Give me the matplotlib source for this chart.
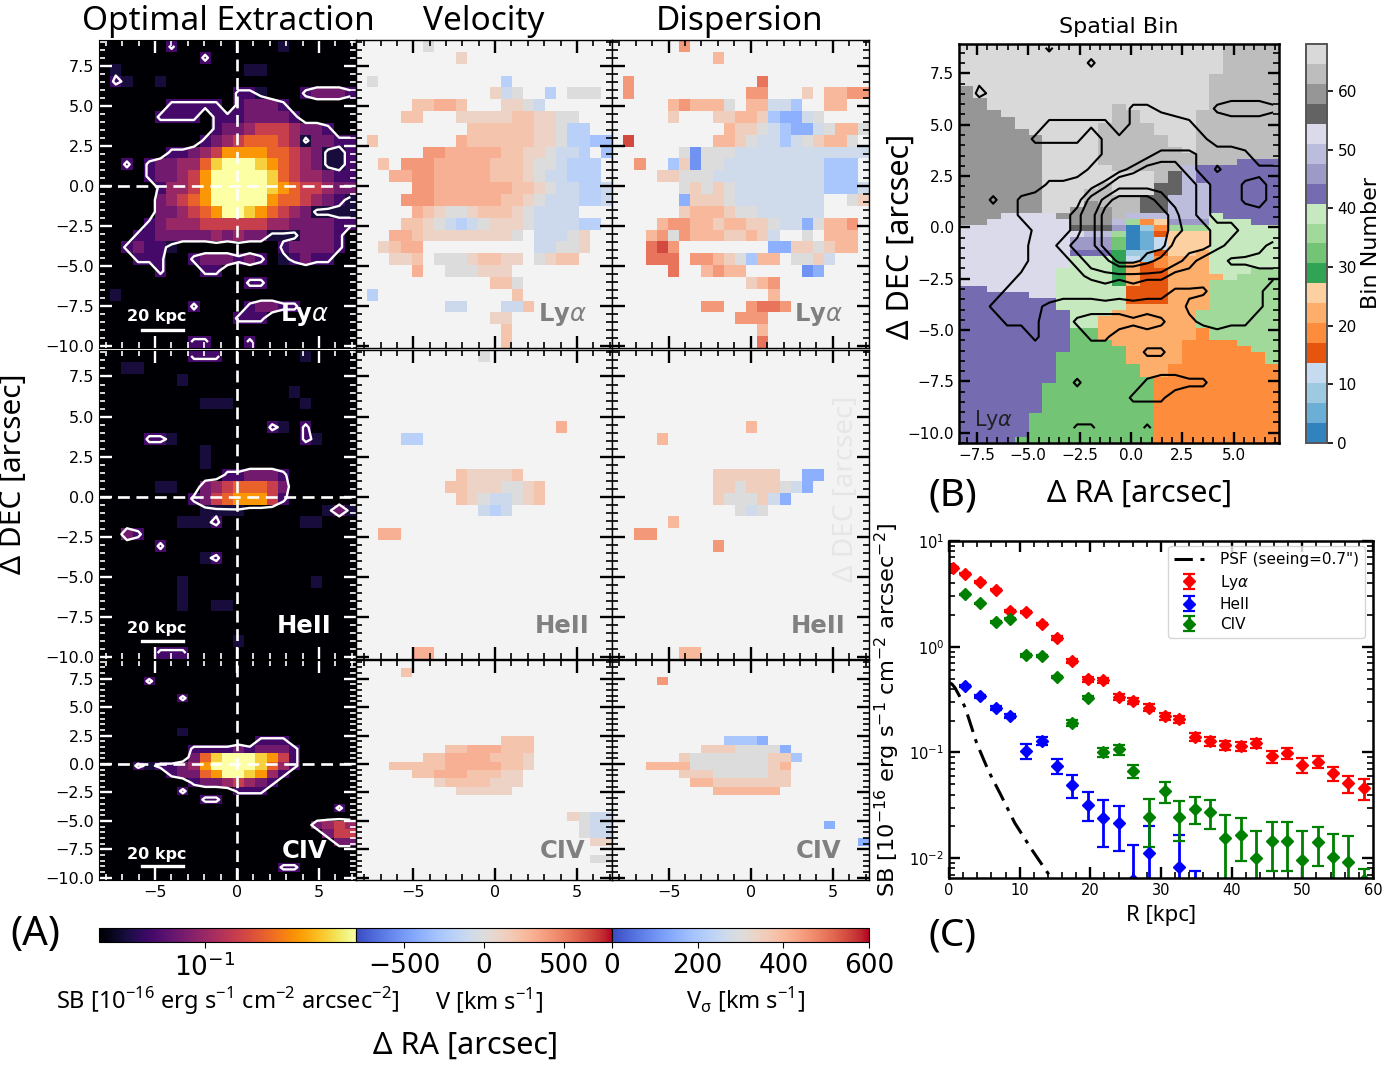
import numpy as np
import matplotlib
matplotlib.use('Agg')
import matplotlib.pyplot as plt
from matplotlib.cm import ScalarMappable
from matplotlib.colors import LogNorm, Normalize
from matplotlib.ticker import MultipleLocator, NullLocator, NullFormatter

W, H = 1392, 1068
NCOL = 23

# surface brightness maps, one character per cell, codes index SB_LEVELS
SB_LEVELS = [0.02, 0.03, 0.045, 0.07, 0.1, 0.16, 0.25, 0.4, 0.65, 1.0]

SB_LYA = [
    "00000020000000001", "00000000020000", "01000000000001100", "02100100000000",
    "00000000000022100023332", "00000022222023332000000", "00000222202223333200000",
    "00000000002334555433200", "00000000023456665413322", "00000022345777766543112",
    "00202334468999876543112", "00002334579999986544322", "00000244579999987655433",
    "00000345679999976654321", "00000334567998765431111", "00002344455555544333322",
    "00022333334343311133320", "00232210000000002333320", "00022200233323201232200",
    "00000200022", "000000000000022", "01", "000000002000023322", "000000000000222", "0",
    "00000000220002",
]
SB_HEII = [
    "00000000222000000010", "001100", "0000000100", "000000000000000001",
    "00000000011100000010", "0", "000000000000000210200", "00002210000000000021",
    "000000000100", "000000000100", "00000000000223332", "00000110034566653",
    "00000000235677752", "00000000011110000000131", "00000001112000000011", "0032",
    "000002", "00000000012", "0", "00000001000000000001", "00000001", "000000010011",
    "0", "0", "0000000000001", "00000222",
]
SB_CIV = [
    "0", "0", "00002", "0", "00000002", "0", "0", "0", "0000000100",
    "00000000000000222", "000000002222323332", "000000003689998752",
    "000212234799998642", "00000023367998742", "0000000023345432",
    "000000020000222", "00000000022", "000000000000000000000" + "2", "0",
    "00000000000000000003454", "00000000000000000000355", "00000000000000000000033",
    "0", "0", "000000000000000022", "0",
]

# velocity maps: hex code * 100 - 500 km/s, '.' is no data
VEL_LYA = [
    "......5", ".........6", "", ".5...........3", "............645..3.555.",
    ".....77887...6654", "....77...66666776655", "..........77777766533",
    ".7.......87777776653322", "......998888877665443.2",
    "..7.999888887776554333.", "...8899888887776544333.",
    ".....998888888776544334", "....9998888887765444334",
    ".....876556777654444...", "....776543456665444433.", "...887666666665.44456",
    "..6788..........44556", "...667.55567766.5677", ".....8..555666", "............775",
    ".3............7", "........44...447", "............66", ".............7", ".............7",
]
VEL_HEII = [
    "...........5", "", "", "", "", "", "..................8", "....33", "", "",
    ".........766667", "........776665567", ".........76544567", "...........434", "",
    "..88", "", "", "", "", "", "", "", "", "", ".....88",
]
VEL_CIV = [
    "", "....7", "", "", "", "", "", "", "", ".............777", "........77888777",
    "......7788887776", "...7777788888776", ".....7788877766", ".......67777666",
    ".........66666", "", "", "...................6544", "....................544",
    "....................544", ".....................66", "", ".....................55", "", "",
]

# dispersion maps: codes index DISP_LEVELS, '.' is no data
DISP_LEVELS = [0, 50, 100, 150, 200, 270, 300, 350, 400, 450, 500, 550]

DISP_LYA = [
    "......9", ".........8", "", ".9...........a", ".9..........99...7.8899",
    ".....898886.88554..88", ".....7...7788743356", "..........8776543356886",
    ".b.......88765545678" + "86", "......62666555555555555.",
    "..9..47266555555555444.", "....776665555555555444.", "......67676555555554445",
    "......377765555555" + "5..67", "......788876655555" + "5....",
    "....89988788776553" + "6889", "...896988877875..6.888",
    "...ab9........33776788", "...aaa.99876488.6675", ".....a..8988.....23", "............789",
    "..............8", "........99..9aa9", "...........999", ".............8", ".............a",
]
DISP_HEII = [
    "", "", "", "", "", "", "............8", "....8", "", "",
    ".........777777..33", ".........776777653", ".........766675 3".replace(" ", ""), "...........656",
    ".....8", "..99", ".........9", "", "", "", "", "", "", "", "", "......88",
]
DISP_CIV = [
    "", "", "....9", "", "", "", "", "", "", "..........4443", "........77766663",
    "......76666666774", "...8888666666678", "......7776666677", ".......887777777",
    ".........888888", "", "", "", "...................3", "", "......................3", "", "", "", "",
]

# spatial bin map, run-length coded rows: repeat|code count ...; code a..t = tab20c slot
BIN_ROWS = [
    "5|t19 s4", "2|t18 s5", "2|r1 t17 s5", "1|r2 t16 s5", "1|r2 t9 s1 t6 s5", "1|r3 t8 s2 t4 s6",
    "1|r4 t7 s2 t4 s6", "1|r4 t6 s4 t3 s6", "1|r5 t5 s4 t3 s6", "2|r6 t4 s5 t2 s6", "1|r6 t4 s6 t1 s6",
    "1|r6 t4 s13", "1|r6 t4 s10 m3", "1|r6 t5 s5 o1 m6", "2|r6 t8 s1 q1 o1 m6", "1|r6 t4 s1 t3 q2 o2 m5",
    "1|r6 t3 s2 t3 q2 o2 m5", "1|r6 t3 s4 q2 o3 m5", "1|r6 t3 r1 s3 q2 o3 m5", "1|r6 t2 r3 s2 q2 o3 m5",
    "1|r3 p4 r4 s1 o6 l1 m4", "1|r2 p6 r3 o1 k1 f1 h1 n3 l3 m2", "1|p8 q3 n1 a1 c1 f1 k3 l5",
    "1|p9 o2 k1 a1 b1 e1 h3 l5", "2|p8 n3 j1 a1 b1 d1 h3 l5", "1|p8 m3 i1 c2 e1 h2 g1 l5",
    "1|p8 l3 i1 d1 c1 f1 g3 l5", "1|p8 l3 i1 g1 e1 f1 g3 l5", "1|p7 l4 i1 g1 e2 g3 l3 k2",
    "1|p7 l4 i1 g1 e2 g4 l1 k3", "1|p7 l4 i1 g1 e2 g3 k5", "1|m2 p5 l5 e3 g3 k5", "1|m5 p2 l5 e3 g3 k5",
    "1|m7 l5 e3 g3 k5", "1|m7 l5 g6 k5", "1|m8 l3 g6 k6", "2|m8 l2 g7 k6", "2|m8 j2 g7 f1 k5",
    "1|m8 j3 g5 f4 k3", "1|m8 j4 g4 f5 k2", "2|m7 j5 g4 f6 k1", "2|m7 j6 g2 f8", "1|m7 j7 f9",
    "5|m6 j8 f9", "4|m5 j9 f9", "1|m4 j10 f9",
]

# radial profiles
R_KPC = [0.6, 2.2, 4.4, 6.6, 8.7, 10.9, 13.1, 15.3, 17.4, 19.6, 21.8, 24.0, 26.1, 28.3,
         30.5, 32.6, 34.8, 37.0, 39.1, 41.3, 43.5, 45.7, 47.8, 50.0, 52.2, 54.3, 56.5, 58.7]
LYA_SB = [5.59, 4.91, 4.09, 3.46, 2.18, 2.14, 1.64, 1.21, 0.737, 0.49, 0.48, 0.336, 0.308, 0.265,
          0.219, 0.207, 0.14, 0.128, 0.1165, 0.115, 0.122, 0.0923, 0.099, 0.0759, 0.0816, 0.0633, 0.0509, 0.046]
LYA_ERR = [0.06, 0.05, 0.05, 0.05, 0.04, 0.04, 0.04, 0.04, 0.03, 0.03, 0.03, 0.02, 0.02, 0.02,
           0.015, 0.015, 0.012, 0.012, 0.012, 0.012, 0.012, 0.012, 0.012, 0.012, 0.011, 0.01, 0.0095, 0.0105]
HEII_SB = [np.nan, 0.4245, 0.341, 0.263, 0.2207, 0.103, 0.1289, 0.0742, 0.0491, 0.0322, 0.0241, 0.0214,
           0.0062, 0.0111, np.nan, 0.0082, 0.0055, np.nan, np.nan, np.nan, np.nan, np.nan, np.nan, np.nan,
           np.nan, np.nan, np.nan, np.nan]
HEII_ERR = [0, 0.012, 0.012, 0.01, 0.008, 0.016, 0.012, 0.0117, 0.012, 0.0099, 0.0113, 0.0096,
            0.0072, 0.009, 0, 0.0084, 0.002, 0, 0, 0, 0, 0, 0, 0, 0, 0, 0, 0]
CIV_SB = [np.nan, 3.13, 2.57, 1.71, 1.84, 0.828, 0.816, 0.516, 0.191, 0.329, 0.1007, 0.1068, 0.0666, 0.0246,
          0.0431, 0.0246, 0.0293, 0.0272, 0.01557, 0.01675, 0.01007, 0.0147, 0.0147, 0.00972, 0.01417, 0.0102,
          0.00917, 0.0062]
CIV_ERR = [0, 0.03, 0.03, 0.03, 0.03, 0.02, 0.02, 0.015, 0.012, 0.012, 0.01, 0.012, 0.0093, 0.0117,
           0.0097, 0.0101, 0.0084, 0.0082, 0.01, 0.0073, 0.0079, 0.0072, 0.0072, 0.0083, 0.0057, 0.0066, 0.0072, 0.0017]
PSF_R = [0, 0.4, 0.85, 1.5, 2.3, 3.9, 5.6, 7.3, 9.3, 11.7, 13.8, 14.5]
PSF_SB = [0.457, 0.445, 0.409, 0.34, 0.265, 0.1234, 0.0666, 0.0401, 0.0216, 0.0121, 0.00753, 0.00652]

LABELS = ['Ly$\\alpha$', 'HeII', 'CIV']

plt.rcParams['font.family'] = ['DejaVu Sans']
plt.rcParams['mathtext.fontset'] = 'dejavusans'
SANS = 'Noto Sans'


def box(left, top, right, bottom):
    return [left / W, 1 - bottom / H, (right - left) / W, (bottom - top) / H]


def read_grid(rows, pad, decode):
    return np.array([[decode(c) for c in r.ljust(NCOL, pad)[:NCOL]] for r in rows], dtype=float)


def decode_vel(c):
    return np.nan if c == '.' else int(c, 16) * 100 - 500


def decode_disp(c):
    return np.nan if c == '.' else DISP_LEVELS[int(c, 16)]


def read_bins(rows):
    out = []
    for row in rows:
        repeat, runs = row.split('|')
        cells = []
        for run in runs.split():
            cells += [(ord(run[0]) - ord('a')) * 3.4 + 1.7] * int(run[1:])
        out += [cells] * int(repeat)
    return np.array(out)


def style_ticks(ax, color='k'):
    ax.xaxis.set_major_locator(MultipleLocator(5))
    ax.xaxis.set_minor_locator(MultipleLocator(1))
    ax.yaxis.set_major_locator(MultipleLocator(2.5))
    ax.yaxis.set_minor_locator(MultipleLocator(0.5))
    ax.tick_params(which='both', direction='in', top=True, right=True, color=color, labelcolor='k', labelsize=11.5)
    ax.tick_params(which='major', length=9, width=1.7)
    ax.tick_params(which='minor', length=4.5, width=1.2)


fig = plt.figure(figsize=(W / 100, H / 100), dpi=100)

rows_px = [(40, 348, -10.15, 9.12), (350, 659, -10.1, 9.15), (660, 880, -10.2, 9.15)]
cols_px = [(99, 356, -8.41, 7.26), (356, 612, -8.5, 7.14), (612, 869, -8.45, 7.2)]
sb_grids = [SB_LYA, SB_HEII, SB_CIV]
vel_grids = [VEL_LYA, VEL_HEII, VEL_CIV]
disp_grids = [DISP_LYA, DISP_HEII, DISP_CIV]

sb_norm = LogNorm(0.02, 1)
vel_norm = Normalize(-800, 800)
disp_norm = Normalize(0, 600)

for i, (top, bottom, y0, y1) in enumerate(rows_px):
    digits = read_grid(sb_grids[i], '0', int)
    y_e = np.linspace(y1, y0, len(sb_grids[i]) + 1)
    y_c = 0.5 * (y_e[:-1] + y_e[1:])

    # surface brightness
    left, right, x0, x1 = cols_px[0]
    ax = fig.add_axes(box(left, top, right, bottom))
    x_e = np.linspace(x0, x1, NCOL + 1)
    x_c = 0.5 * (x_e[:-1] + x_e[1:])
    sb = np.array(SB_LEVELS)[digits.astype(int)]
    ax.pcolormesh(x_e, y_e, sb, cmap='inferno', norm=sb_norm)
    ax.contour(x_c, y_c, digits, levels=[1.5], colors='white', linewidths=1.7)
    ax.axvline(0, color='white', ls=(0, (4.5, 2.5)), lw=1.9)
    ax.axhline(0, color='white', ls=(0, (4.5, 2.5)), lw=1.9)
    ax.set_xlim(x0, x1)
    ax.set_ylim(y0, y1)
    style_ticks(ax, 'white')
    if i < 2:
        ax.tick_params(labelbottom=False)
    else:
        ax.set_xticks([-5, 0, 5])
    ax.plot([-5.8, -3.3], [-9.0, -9.0], color='white', lw=2.4)
    ax.text(-4.9, -8.2 if i < 2 else -7.95, '20 kpc', color='white', fontsize=11.5, fontweight='bold',
            ha='center', va='center')
    ax.text(4.1, -8.05 if i < 2 else -7.65, LABELS[i], color='white', fontsize=17.5, fontweight='bold',
            ha='center', va='center')

    # velocity and dispersion
    for j, (grids, decode, cmap, norm) in enumerate([(vel_grids, decode_vel, 'coolwarm', vel_norm),
                                                     (disp_grids, decode_disp, 'coolwarm', disp_norm)]):
        left, right, x0, x1 = cols_px[j + 1]
        ax = fig.add_axes(box(left, top, right, bottom))
        ax.set_facecolor('#f3f3f3')
        rows = grids[i]
        x_e = np.linspace(x0, x1, NCOL + 1)
        ax.pcolormesh(x_e, np.linspace(y1, y0, len(rows) + 1), read_grid(rows, '.', decode), cmap=cmap, norm=norm)
        ax.set_xlim(x0, x1)
        ax.set_ylim(y0, y1)
        style_ticks(ax)
        ax.tick_params(labelleft=False)
        if i < 2:
            ax.tick_params(labelbottom=False)
        else:
            ax.set_xticks([-5, 0, 5])
        ax.text(4.1, -8.05 if i < 2 else -7.65, LABELS[i], color='#808080', fontsize=17.5, fontweight='bold',
                ha='center', va='center')
        for s in ax.spines.values():
            s.set_linewidth(1.0)

# the three horizontal colour bars
cb_specs = [((99, 356), 'inferno', sb_norm, [0.1]),
            ((356, 612), 'coolwarm', vel_norm, [-500, 0, 500]),
            ((612, 869), 'coolwarm', disp_norm, [0, 200, 400, 600])]
for (left, right), cmap, norm, ticks in cb_specs:
    cax = fig.add_axes(box(left, 928, right, 942))
    cb = fig.colorbar(ScalarMappable(norm=norm, cmap=cmap), cax=cax, orientation='horizontal')
    cb.set_ticks(ticks)
    cax.xaxis.set_minor_locator(NullLocator())
    cax.xaxis.set_minor_formatter(NullFormatter())
    cax.tick_params(labelsize=19, length=4, width=0.8, pad=4)

fig.text(228 / W, 1 - 22 / H, 'Optimal Extraction', family=SANS, fontsize=24, ha='center', va='center')
fig.text(484 / W, 1 - 22 / H, 'Velocity', family=SANS, fontsize=24, ha='center', va='center')
fig.text(740 / W, 1 - 22 / H, 'Dispersion', family=SANS, fontsize=24, ha='center', va='center')
fig.text(14 / W, 1 - 474 / H, '\u0394 DEC [arcsec]', family=SANS, fontsize=21.5, rotation=90, ha='center', va='center')
fig.text(466 / W, 1 - 1046 / H, '\u0394 RA [arcsec]', family=SANS, fontsize=22, ha='center', va='center')
fig.text(846 / W, 1 - 489 / H, '\u0394 DEC [arcsec]', family=SANS, fontsize=20, rotation=90, ha='center', va='center',
         color='#e6e6e6')
fig.text(228 / W, 1 - 1001 / H, 'SB [10$^{\\mathregular{-16}}$ erg s$^{\\mathregular{-1}}$ cm$^{\\mathregular{-2}}$ arcsec$^{\\mathregular{-2}}$]',
         family=SANS, fontsize=17, ha='center', va='center')
fig.text(489 / W, 1 - 1001 / H, 'V [km s$^{\\mathregular{-1}}$]', family=SANS, fontsize=17, ha='center', va='center')
fig.text(746 / W, 1 - 1001 / H, 'V$_{\\mathregular{\u03c3}}$ [km s$^{\\mathregular{-1}}$]', family=SANS, fontsize=17,
         ha='center', va='center')
fig.text(35 / W, 1 - 935 / H, '(A)', family=SANS, fontsize=29, ha='center', va='center')
fig.text(953 / W, 1 - 495 / H, '(B)', family=SANS, fontsize=28, ha='center', va='center')
fig.text(953 / W, 1 - 935 / H, '(C)', family=SANS, fontsize=28, ha='center', va='center')

# panel B, spatial bins with the Lya contours on top
axb = fig.add_axes(box(959, 44, 1279, 443))
bins = read_bins(BIN_ROWS)
x_e = np.linspace(-8.37, 7.2, NCOL + 1)
y_e = np.linspace(8.93, -10.5, bins.shape[0] + 1)
mesh = axb.pcolormesh(x_e, y_e, bins, cmap='tab20c', vmin=0, vmax=68)
lya_digits = read_grid(SB_LYA, '0', int)
y_l = np.linspace(9.12, -10.15, len(SB_LYA) + 1)
x_l = np.linspace(-8.41, 7.26, NCOL + 1)
axb.contour(0.5 * (x_l[:-1] + x_l[1:]), 0.5 * (y_l[:-1] + y_l[1:]), lya_digits,
            levels=[1.5, 4.5, 5.5, 7.5, 8.5], colors='black', linewidths=1.5)
axb.set_xlim(-8.37, 7.2)
axb.set_ylim(-10.5, 8.93)
axb.xaxis.set_major_locator(MultipleLocator(2.5))
axb.xaxis.set_minor_locator(MultipleLocator(0.5))
axb.yaxis.set_major_locator(MultipleLocator(2.5))
axb.yaxis.set_minor_locator(MultipleLocator(0.5))
axb.tick_params(which='both', direction='in', top=True, right=True, labelsize=11)
axb.tick_params(which='major', length=8, width=1.7)
axb.tick_params(which='minor', length=4, width=1.2)
for s in axb.spines.values():
    s.set_linewidth(1.8)
axb.text(-6.7, -9.4, 'Ly$\\alpha$', fontsize=15, color='#222222', ha='center', va='center')
fig.text(1119 / W, 1 - 27 / H, 'Spatial Bin', fontsize=16, ha='center', va='center')
fig.text(901 / W, 1 - 236 / H, '\u0394 DEC [arcsec]', family=SANS, fontsize=22, rotation=90, ha='center', va='center')
fig.text(1140 / W, 1 - 494 / H, '\u0394 RA [arcsec]', family=SANS, fontsize=22, ha='center', va='center')

cax = fig.add_axes(box(1306, 44, 1327, 443))
cb = fig.colorbar(mesh, cax=cax)
cb.set_ticks(np.arange(0, 61, 10))
cb.outline.set_edgecolor('#555555')
cb.outline.set_linewidth(1.4)
cax.tick_params(labelsize=11, length=4, width=1.2)
fig.text(1371 / W, 1 - 243 / H, 'Bin Number', fontsize=16, rotation=90, ha='center', va='center')

# panel C, radial profiles
axc = fig.add_axes(box(949, 541, 1373, 878))
axc.plot(PSF_R, PSF_SB, color='k', ls=(0, (6, 2.5, 1.3, 2.5)), lw=2.2, label='PSF (seeing=0.7")')
for sb, err, color, name in [(LYA_SB, LYA_ERR, 'red', LABELS[0]), (HEII_SB, HEII_ERR, 'blue', LABELS[1]),
                             (CIV_SB, CIV_ERR, 'green', LABELS[2])]:
    axc.errorbar(R_KPC, sb, yerr=err, fmt='D', color=color, ms=6.5, elinewidth=2, capsize=4, capthick=1.6, label=name)
axc.set_yscale('log')
axc.set_xlim(0, 60)
axc.set_ylim(0.0065, 10)
axc.xaxis.set_major_locator(MultipleLocator(10))
axc.xaxis.set_minor_locator(MultipleLocator(2))
axc.tick_params(which='both', direction='in', top=True, right=True, labelsize=10.5)
axc.tick_params(which='major', length=8, width=1.7)
axc.tick_params(which='minor', length=4, width=1.2)
for s in axc.spines.values():
    s.set_linewidth(1.8)
axc.set_xlabel('R [kpc]', family=SANS, fontsize=16, labelpad=5)
fig.text(887 / W, 1 - 710 / H, 'SB [10$^{-16}$ erg s$^{-1}$ cm$^{-2}$ arcsec$^{-2}$]', fontsize=16.2, rotation=90,
         ha='center', va='center')
axc.legend(loc='upper right', fontsize=11, bbox_to_anchor=(0.981, 0.985), borderaxespad=0, handletextpad=1.0,
           labelspacing=0.35)

fig.savefig('out.png', dpi=100)
